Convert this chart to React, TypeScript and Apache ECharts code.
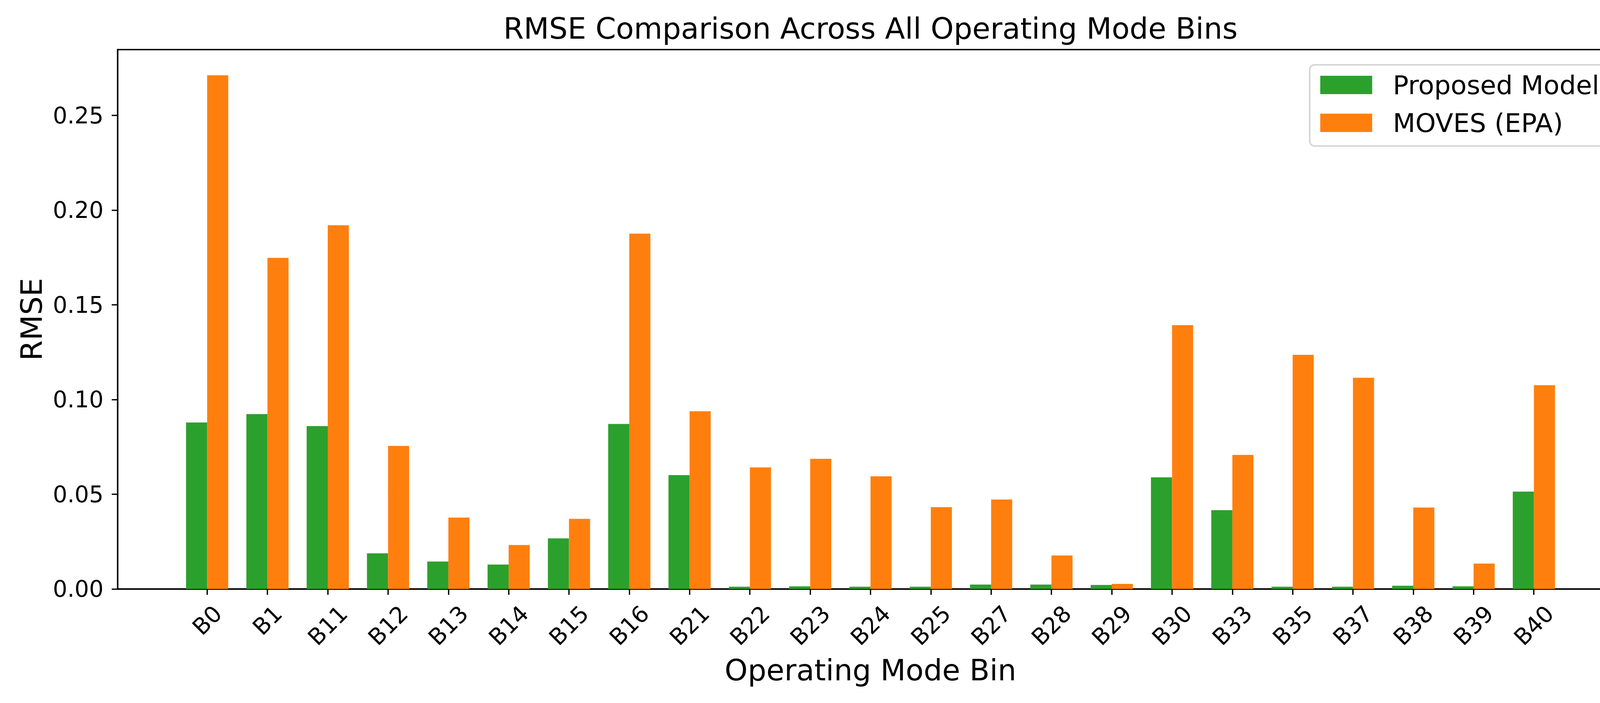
import React, { useEffect, useRef } from "react";
import * as echarts from "echarts";

const categories = ["B0", "B1", "B11", "B12", "B13", "B14", "B15", "B16", "B21", "B22", "B23", "B24", "B25", "B27", "B28", "B29", "B30", "B33", "B35", "B37", "B38", "B39", "B40"];
const proposedModel = [0.0879, 0.0923, 0.0860, 0.0188, 0.0145, 0.0129, 0.0267, 0.0871, 0.0601, 0.0012, 0.0014, 0.0012, 0.0012, 0.0023, 0.0023, 0.0021, 0.0589, 0.0416, 0.0012, 0.0012, 0.0017, 0.0014, 0.0514];
const movesEpa = [0.2712, 0.1748, 0.1920, 0.0755, 0.0377, 0.0232, 0.0370, 0.1876, 0.0938, 0.0642, 0.0687, 0.0595, 0.0432, 0.0472, 0.0177, 0.0027, 0.1393, 0.0708, 0.1236, 0.1115, 0.0430, 0.0134, 0.1076];
const yTicks = [0, 0.05, 0.1, 0.15, 0.2, 0.25];

const FONT = "DejaVu Sans";
const TICK_FS = 58.33;
const LABEL_FS = 75;
const LEGEND_FS = 66.67;
const LW = 3.33;

export default function App() {
  const ref = useRef<HTMLDivElement>(null);
  useEffect(() => {
    document.body.style.margin = "0";
    const chart = echarts.init(ref.current!, null, { renderer: "svg" });
    const n = categories.length;
    const barW = 0.35;
    const xMin = -barW - 0.05 * (n - 1 + 2 * barW);
    const xMax = n - 1 + barW + 0.05 * (n - 1 + 2 * barW);
    const yMax = Math.max(...movesEpa, ...proposedModel) * 1.05;
    const idx = categories.map((_, i) => i);

    chart.setOption({
      animation: false,
      backgroundColor: "#ffffff",
      graphic: [
        {
          type: "text",
          x: (301 + 4156) / 2,
          y: 73,
          style: {
            text: "RMSE Comparison Across All Operating Mode Bins",
            fontFamily: FONT,
            fontSize: LABEL_FS,
            fill: "#000",
            align: "center",
            verticalAlign: "middle",
          },
        },
      ],
      legend: {
        data: ["Proposed Model", "MOVES (EPA)"],
        orient: "vertical",
        right: 78,
        top: 166,
        icon: "rect",
        itemWidth: 133,
        itemHeight: 47,
        itemGap: 30,
        padding: [18, 28, 26, 27],
        backgroundColor: "rgba(255,255,255,0.8)",
        borderColor: "#d6d6d6",
        borderWidth: 4,
        borderRadius: 13,
        textStyle: { fontFamily: FONT, fontSize: LEGEND_FS, color: "#000", padding: [0, 0, 0, 48] },
      },
      grid: {
        left: 301,
        right: 44,
        top: 127,
        bottom: 292,
        show: true,
        borderColor: "#000",
        borderWidth: LW,
        backgroundColor: "transparent",
      },
      xAxis: {
        type: "value",
        min: xMin,
        max: xMax,
        name: "Operating Mode Bin",
        nameLocation: "middle",
        nameGap: 208,
        nameTextStyle: { fontFamily: FONT, fontSize: LABEL_FS, color: "#000", verticalAlign: "middle" },
        axisLine: { show: true, onZero: false, lineStyle: { color: "#000", width: LW } },
        axisTick: { show: true, inside: false, length: 15, customValues: idx, lineStyle: { color: "#000", width: LW } },
        axisLabel: { show: false },
        splitLine: { show: false },
      },
      yAxis: {
        type: "value",
        min: 0,
        max: yMax,
        name: "RMSE",
        nameLocation: "middle",
        nameGap: 220,
        nameRotate: 90,
        nameTextStyle: { fontFamily: FONT, fontSize: LABEL_FS, color: "#000", verticalAlign: "middle" },
        axisLine: { show: true, onZero: false, lineStyle: { color: "#000", width: LW } },
        axisTick: { show: true, inside: false, length: 15, customValues: yTicks, lineStyle: { color: "#000", width: LW } },
        axisLabel: {
          show: true,
          customValues: yTicks,
          margin: 36,
          fontFamily: FONT,
          fontSize: TICK_FS,
          color: "#000",
          formatter: (v: number) => v.toFixed(2),
        },
        splitLine: { show: false },
      },
      series: [
        {
          name: "Proposed Model",
          type: "bar",
          data: proposedModel.map((v, i) => [i, v]),
          barWidth: 54,
          barGap: "0%",
          itemStyle: { color: "#2ca02c" },
        },
        {
          name: "MOVES (EPA)",
          type: "bar",
          data: movesEpa.map((v, i) => [i, v]),
          barWidth: 54,
          barGap: "0%",
          itemStyle: { color: "#ff7f0e" },
        },
        {
          name: "xlabels",
          type: "custom",
          clip: false,
          silent: true,
          data: idx.map((i) => [i, 0]),
          renderItem: (params: any, api: any) => {
            const i = params.dataIndex;
            const p = api.coord([i, 0]);
            const label = categories[i];
            const w = TICK_FS * (0.686 + 0.636 * (label.length - 1));
            const h = TICK_FS * 1.164;
            const off = 29 + (w + h) * 0.3536;
            return {
              type: "text",
              x: p[0],
              y: p[1] + off,
              rotation: Math.PI / 4,
              style: {
                text: label,
                fontFamily: FONT,
                fontSize: TICK_FS,
                fill: "#000",
                align: "center",
                verticalAlign: "middle",
              },
            };
          },
        },
      ],
    });
    return () => chart.dispose();
  }, []);
  return <div ref={ref} style={{ position: "absolute", left: 0, top: 0, width: 4200, height: 1800 }} />;
}
